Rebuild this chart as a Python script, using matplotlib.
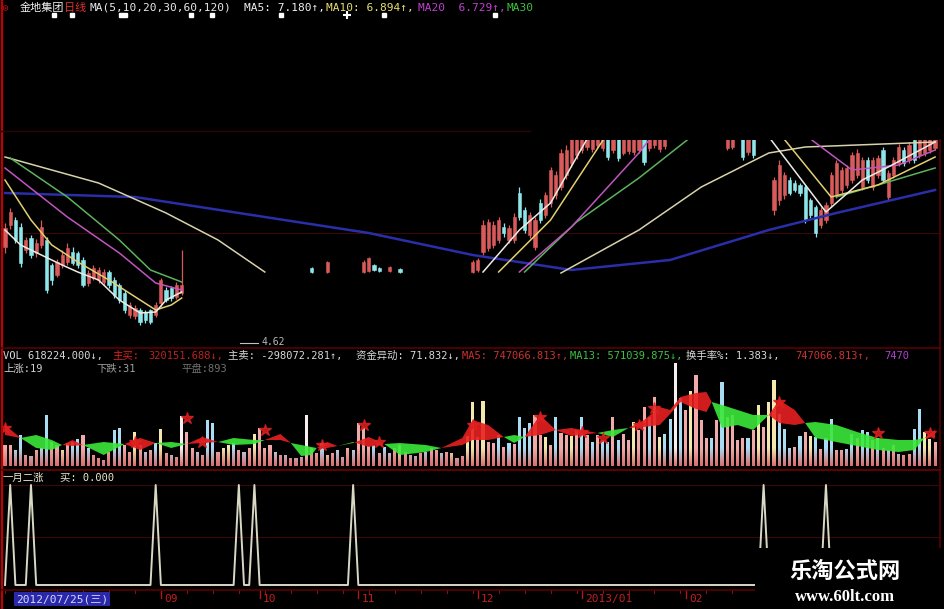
import numpy as np
import matplotlib
matplotlib.use("Agg")
from matplotlib import pyplot as plt
from matplotlib.lines import Line2D
from matplotlib.patches import Rectangle
from matplotlib.path import Path
from matplotlib.colors import LinearSegmentedColormap
from matplotlib.transforms import blended_transform_factory

plt.rcParams['font.family'] = ['DejaVu Sans Mono', 'Noto Sans CJK SC']

W, H = 945, 609
N = 180

# ---------------- candles (bar index, open, close, high, low) ----------------
cdl_idx = (list(range(0, 35)) + [59, 62, 69, 70, 71, 72, 74, 76]
           + list(range(90, 128)) + list(range(139, 145)) + list(range(148, 180)))
cdl_open = [6.18, 6.40, 6.45, 6.38, 6.15, 6.27, 6.12, 6.20, 6.25, 6.00,
            5.90, 6.00, 6.03, 6.13, 6.12, 6.05, 5.82, 5.87, 5.85, 5.83,
            5.93, 5.85, 5.80, 5.72, 5.50, 5.49, 5.55, 5.53, 5.55, 5.50,
            5.62, 5.75, 5.77, 5.68, 5.72,
            5.97, 5.93, 5.93, 5.94, 6.00, 5.97, 5.94, 5.96,
            5.93, 5.95, 6.13, 6.17, 6.20, 6.25, 6.38, 6.25, 6.25, 6.72,
            6.55, 6.30, 6.18, 6.62, 6.50, 6.62, 6.70, 6.78, 6.90, 7.02,
            7.10, 7.15, 7.18, 7.16, 7.20, 7.17, 7.30, 7.15, 7.32, 7.12,
            7.14, 7.13, 7.15, 7.30, 7.17, 7.20, 7.16, 7.19,
            7.17, 7.18, 7.40, 7.30, 7.13, 7.30,
            6.55, 6.65, 6.70, 6.85, 6.82, 6.80, 6.78, 6.65, 6.58, 6.40,
            6.45, 6.62, 6.70, 6.75, 6.80, 6.85, 6.90, 6.78, 7.05, 6.78,
            6.90, 7.15, 6.68, 6.90, 7.02, 7.15, 7.05, 7.25, 7.10, 7.12,
            7.15, 7.17]
cdl_close = [6.37, 6.53, 6.25, 6.02, 6.25, 6.10, 6.22, 6.38, 5.75, 5.85,
             6.03, 6.10, 6.17, 6.02, 6.00, 5.80, 5.92, 5.97, 5.95, 5.93,
             5.80, 5.70, 5.65, 5.55, 5.60, 5.57, 5.43, 5.45, 5.43, 5.60,
             5.85, 5.65, 5.67, 5.80, 5.80,
             5.93, 6.03, 6.03, 6.07, 5.95, 5.94, 5.98, 5.93,
             6.03, 6.05, 6.40, 6.43, 6.40, 6.45, 6.32, 6.37, 6.48, 6.48,
             6.35, 6.50, 6.45, 6.45, 6.70, 6.95, 6.90, 7.12, 7.15, 7.28,
             7.30, 7.35, 7.38, 7.40, 7.38, 7.36, 7.08, 7.35, 7.07, 7.35,
             7.37, 7.34, 7.36, 7.03, 7.35, 7.38, 7.34, 7.36,
             7.35, 7.35, 7.52, 7.08, 7.30, 7.10,
             6.85, 7.00, 6.90, 6.72, 6.75, 6.72, 6.45, 6.50, 6.32, 6.55,
             6.60, 6.90, 7.02, 6.95, 6.97, 7.10, 7.12, 7.05, 6.85, 7.05,
             7.07, 6.85, 6.92, 7.05, 7.18, 7.02, 7.20, 7.05, 7.28, 7.26,
             7.30, 7.35]
cdl_high = [6.42, 6.57, 6.48, 6.42, 6.28, 6.30, 6.26, 6.45, 6.28, 6.02,
            6.06, 6.15, 6.22, 6.18, 6.14, 6.08, 5.95, 6.00, 5.98, 5.96,
            5.95, 5.88, 5.82, 5.75, 5.63, 5.60, 5.57, 5.55, 5.56, 5.63,
            5.87, 5.78, 5.79, 5.83, 6.15,
            5.98, 6.04, 6.05, 6.08, 6.01, 5.98, 5.99, 5.97,
            6.05, 6.07, 6.45, 6.46, 6.44, 6.48, 6.42, 6.40, 6.52, 6.78,
            6.58, 6.53, 6.48, 6.66, 6.73, 6.98, 6.94, 7.16, 7.20, 7.32,
            7.35, 7.40, 7.42, 7.45, 7.42, 7.40, 7.33, 7.38, 7.35, 7.38,
            7.40, 7.38, 7.40, 7.33, 7.38, 7.42, 7.37, 7.40,
            7.38, 7.38, 7.55, 7.33, 7.34, 7.33,
            6.88, 7.05, 6.93, 6.88, 6.85, 6.82, 6.80, 6.67, 6.60, 6.58,
            6.63, 6.93, 7.05, 6.98, 7.00, 7.13, 7.16, 7.08, 7.08, 7.08,
            7.10, 7.18, 6.95, 7.08, 7.21, 7.18, 7.23, 7.28, 7.31, 7.30,
            7.33, 7.38]
cdl_low = [6.12, 6.36, 6.22, 5.98, 6.12, 6.07, 6.08, 6.17, 5.72, 5.80,
           5.88, 5.97, 6.00, 6.00, 5.97, 5.78, 5.79, 5.85, 5.82, 5.80,
           5.77, 5.67, 5.62, 5.52, 5.47, 5.46, 5.40, 5.42, 5.41, 5.48,
           5.58, 5.63, 5.64, 5.66, 5.70,
           5.92, 5.92, 5.92, 5.93, 5.94, 5.93, 5.93, 5.92,
           5.92, 5.93, 6.10, 6.14, 6.17, 6.22, 6.28, 6.22, 6.22, 6.45,
           6.32, 6.27, 6.15, 6.42, 6.47, 6.58, 6.66, 6.75, 6.86, 6.98,
           7.06, 7.12, 7.15, 7.13, 7.17, 7.14, 7.05, 7.12, 7.04, 7.10,
           7.11, 7.10, 7.12, 7.00, 7.14, 7.17, 7.13, 7.16,
           7.15, 7.16, 7.36, 7.05, 7.10, 7.07,
           6.50, 6.60, 6.66, 6.70, 6.73, 6.69, 6.42, 6.47, 6.28, 6.37,
           6.42, 6.58, 6.67, 6.72, 6.77, 6.82, 6.87, 6.75, 6.82, 6.75,
           6.87, 6.82, 6.65, 6.87, 6.99, 6.99, 7.02, 7.02, 7.07, 7.09,
           7.12, 7.15]

# ---------------- moving averages (nan = gap in the screenshot) ----------------
nan = np.nan
ma5_idx = [0, 3, 7, 11, 14, 18, 22, 26, 29, 31, 34, nan, 92, 99, 105, 113, nan, 146, 158, 165, 170, 179]
ma5_val = [6.35, 6.20, 6.10, 6.00, 5.93, 5.85, 5.65, 5.52, 5.53, 5.65, 5.73, nan,
           5.93, 6.35, 6.62, 7.35, nan, 7.35, 6.53, 6.85, 6.98, 7.23]
ma10_idx = [0, 5, 9, 14, 20, 26, 29, 32, 34, nan, 95, 105, 116, nan, 149, 159, 168, 179]
ma10_val = [6.85, 6.45, 6.20, 6.03, 5.85, 5.65, 5.55, 5.60, 5.67, nan,
            5.93, 6.45, 7.32, nan, 7.32, 6.68, 6.80, 7.08]
ma20_idx = [0, 12, 22, 29, 34, nan, 99, 109, 122, 125, nan, 154, 163, 172, 179]
ma20_val = [6.97, 6.48, 6.12, 5.82, 5.75, nan, 5.93, 6.38, 7.12, 7.32, nan, 7.30, 6.95, 7.00, 7.15]
ma30_idx = [1, 12, 22, 28, 34, nan, 100, 110, 122, 133, nan, 160, 168, 179]
ma30_val = [7.07, 6.68, 6.25, 5.95, 5.83, nan, 5.93, 6.43, 6.87, 7.32, nan, 6.68, 6.80, 6.97]
ma60_idx = [0, 18, 31, 41, 50, nan, 107, 122, 134, 147, 154, 179]
ma60_val = [7.08, 6.82, 6.52, 6.25, 5.93, nan, 5.92, 6.35, 6.78, 7.12, 7.18, 7.23]
ma120_idx = [0, 25, 50, 70, 90, 109, 128, 147, 160, 179]
ma120_val = [6.72, 6.68, 6.48, 6.32, 6.10, 5.95, 6.05, 6.35, 6.52, 6.75]

# info-mine markers above the price panel
info_idx = [9.4, 12.9, 22.3, 23.0, 35.8, 39.8, 53.1, 72.9, 94.3]
info_plus = [65.8]

# ---------------- volume (万手) ----------------
volume = [42, 42, 32, 62, 22, 20, 32, 36, 102, 48,
          42, 32, 46, 48, 54, 62, 36, 22, 16, 12,
          28, 72, 76, 42, 28, 68, 42, 28, 32, 46,
          74, 26, 22, 18, 100, 68, 36, 28, 22, 92,
          86, 28, 36, 42, 46, 32, 28, 36, 64, 76,
          36, 42, 28, 22, 22, 16, 16, 18, 102, 36,
          26, 46, 22, 26, 32, 18, 36, 32, 86, 76,
          40, 42, 26, 38, 26, 36, 42, 28, 22, 20,
          26, 28, 36, 32, 26, 28, 26, 16, 20, 60,
          128, 58, 130, 48, 46, 62, 38, 46, 45, 98,
          76, 86, 102, 62, 58, 42, 98, 66, 62, 60,
          72, 98, 62, 48, 62, 52, 48, 98, 52, 65,
          52, 88, 72, 118, 98, 138, 58, 65, 94, 206,
          136, 112, 150, 182, 92, 56, 57, 92, 168, 98,
          102, 53, 57, 57, 72, 122, 79, 128, 172, 105,
          75, 37, 39, 60, 69, 60, 59, 35, 57, 95,
          33, 33, 35, 65, 57, 73, 69, 52, 57, 37,
          32, 42, 25, 22, 25, 75, 115, 69, 55, 48]
vol_kind = ("ppbbpbpbbp" "pypbbpbppb" "pbbppypbpb" "ypbpwppbpb" "bpyybpbpyp"
            "ppbpbpbbwp" "pbypbbpbpp" "pbpbbpypbb" "pbppbpybpy"
            "ypyppbpbpb" "bbppypbppy" "pbpbpbbpbp" "pyppbpybbw" "bpypppbpbp"
            "pppbpypyyb" "bbpbpybpbb" "ppbbpbbpbp" "bpbppbbyyp")

# money-flow ribbon (red where buy > sell, green otherwise)
mf_idx = [0, 3, 6, 9, 11, 13, 15, 19, 23, 26, 29, 32, 35, 38, 41, 44, 48, 50, 53, 55,
          57, 59, 60, 62, 64, 67, 70, 73, 76, 81, 84, 88, 90, 93, 96, 98, 100, 103, 106, 109,
          114, 117, 120, 123, 126, 128, 130, 133, 135, 136, 138, 141, 144, 147, 149, 152, 154, 156, 160, 164,
          168, 172, 175, 177, 179]
mf_buy = [82, 56, 36, 32, 42, 52, 42, 22, 44, 56, 46, 36, 44, 58, 48, 42, 44, 52, 64, 46,
          20, 22, 36, 48, 40, 46, 58, 44, 22, 28, 36, 56, 92, 82, 58, 46, 58, 102, 72, 76,
          66, 58, 76, 92, 118, 112, 138, 146, 148, 128, 76, 82, 72, 102, 132, 112, 86, 56, 48, 40,
          32, 28, 32, 56, 72]
mf_sell = [62, 56, 62, 52, 42, 40, 42, 48, 44, 32, 46, 48, 44, 46, 48, 56, 52, 52, 52, 46,
           42, 38, 36, 36, 40, 48, 38, 44, 46, 42, 36, 42, 52, 52, 58, 62, 58, 62, 72, 60,
           66, 72, 76, 78, 82, 104, 128, 114, 108, 128, 122, 112, 102, 102, 86, 82, 86, 88, 82, 68,
           56, 52, 52, 56, 58]
star_idx = [0, 25, 35, 38, 50, 61, 69, 72, 90, 103, 111, 115, 122, 125, 149, 168, 178]
star_val = [76, 48, 96, 48, 72, 42, 82, 48, 82, 98, 68, 56, 82, 116, 128, 66, 66]

# 一月二涨 signal bars
spike_idx = [1, 5, 29, 45, 48, 67, 146, 158]

# date axis
month_idx = [30, 49, 68, 91, 111, 131]
month_lbl = ['09', '10', '11', '12', '2013/01', '02']
first_date = '2012/07/25(三)'

# ---------------- figure ----------------
UP, DOWN = '#d85a5a', '#8ee6ea'
DARK_RED = '#5a0000'
XLIM = (-0.58, 179.95)

fig = plt.figure(figsize=(W / 100, H / 100), dpi=100, facecolor='black')


def px_axes(y0, y1):
    ax = fig.add_axes([2 / W, 1 - y1 / H, 938 / W, (y1 - y0) / H])
    ax.set_facecolor('black')
    ax.set_xlim(*XLIM)
    ax.set_xticks([])
    ax.set_yticks([])
    for s in ax.spines.values():
        s.set_visible(False)
    return ax


def ftext(x, y, s, color, size=7.5, **kw):
    fig.text(x / W, 1 - y / H, s, color=color, fontsize=size, va='center', ha='left', **kw)


def fline(x0, y0, x1, y1, color, lw=1.0):
    fig.add_artist(Line2D([x0 / W, x1 / W], [1 - y0 / H, 1 - y1 / H],
                          transform=fig.transFigure, color=color, lw=lw))


# ---- price panel ----
ax_p = px_axes(140, 345)
ax_p.set_ylim(5.20, 7.25)
ax_p.axhline(6.32, color='#3a0808', lw=0.8)

xi = np.array(cdl_idx)
o, c = np.array(cdl_open), np.array(cdl_close)
hi, lo = np.array(cdl_high), np.array(cdl_low)
up = c >= o
for mask, col in ((up, UP), (~up, DOWN)):
    ax_p.vlines(xi[mask], lo[mask], hi[mask], color=col, lw=0.9, zorder=2)
    ax_p.bar(xi[mask], (c - o)[mask], bottom=o[mask], width=0.62,
             color=col, edgecolor=col, lw=0.4, zorder=2)

for idx, val, col, lw in ((ma120_idx, ma120_val, '#2a2ea8', 1.8),
                          (ma60_idx, ma60_val, '#d8d2aa', 1.1),
                          (ma30_idx, ma30_val, '#5cb35c', 1.1),
                          (ma20_idx, ma20_val, '#c055c0', 1.1),
                          (ma10_idx, ma10_val, '#e2d070', 1.1),
                          (ma5_idx, ma5_val, '#ecece4', 1.1)):
    ax_p.plot(idx, val, color=col, lw=lw, zorder=3)

top_tr = blended_transform_factory(ax_p.transData, fig.transFigure)
ax_p.plot(info_idx, [1 - 15 / H] * len(info_idx), 's', ms=3.5, color='white',
          transform=top_tr, clip_on=False)
ax_p.plot(info_plus, [1 - 15 / H], '+', ms=6, mew=1.5, color='white',
          transform=top_tr, clip_on=False)

# ---- volume panel ----
ax_v = px_axes(350, 466)
ymax = 232
top_cols = {'p': '#f0aaaa', 'b': '#aadcf4', 'y': '#f4e8ae', 'w': '#f8f0f0'}
bw = 0.6
ramp = np.clip(np.arange(ymax) / 36.0, 0, 1).reshape(-1, 1)
for key, col in top_cols.items():
    sel = [i for i, k in enumerate(vol_kind) if k == key]
    polys = np.array([[(i - bw / 2, 0), (i + bw / 2, 0), (i + bw / 2, volume[i]),
                       (i - bw / 2, volume[i]), (i - bw / 2, 0)] for i in sel])
    path = Path.make_compound_path_from_polys(polys)
    cmap = LinearSegmentedColormap.from_list('v' + key, ['#d86e6e', col])
    im = ax_v.imshow(ramp, cmap=cmap, origin='lower', aspect='auto',
                     extent=(XLIM[0], XLIM[1], 0, ymax), vmin=0, vmax=1, zorder=1)
    im.set_clip_path(path, transform=ax_v.transData)

mx = np.array(mf_idx)
mb, ms = np.array(mf_buy), np.array(mf_sell)
ax_v.fill_between(mx, mb, ms, where=mb >= ms, interpolate=True,
                  color='#e82020', alpha=0.9, lw=0, zorder=3)
ax_v.fill_between(mx, mb, ms, where=mb < ms, interpolate=True,
                  color='#3ae83a', alpha=0.9, lw=0, zorder=3)
ax_v.plot(star_idx, star_val, '*', ms=9, color='#e02020', alpha=0.85, zorder=4)
ax_v.set_xlim(*XLIM)
ax_v.set_ylim(0, ymax)

# ---- indicator panel ----
ax_i = px_axes(470, 590)
ax_i.set_ylim(-0.05, 1.15)
ax_i.axhline(1.0, color='#3a0808', lw=0.8)
ax_i.axhline(0.48, color='#3a0808', lw=0.8)
signal = np.zeros(N)
signal[spike_idx] = 1.0
ax_i.plot(np.arange(N), signal, color='#d8d8c4', lw=1.4)

# ---- frame lines ----
fline(2, 0, 2, 609, '#c00000', 1.6)
fline(940, 140, 940, 590, DARK_RED, 1.2)
fline(0, 131, 530, 131, '#2c0606', 1.0)
fline(2, 348, 940, 348, DARK_RED, 1.2)
fline(2, 470, 940, 470, '#700000', 1.2)
fline(2, 590, 940, 590, DARK_RED, 1.2)

# ---- title line ----
fig.text(6 / W, 1 - 8 / H, '◎', color='#e02020', fontsize=6, va='center', ha='center')
ftext(20, 8, '金地集团', '#f0f0f0', 8)
ftext(64, 8, '日线', '#e03030', 8)
ftext(90, 8, 'MA(5,10,20,30,60,120)', '#e8e8e8', 8)
ftext(244, 8, 'MA5: 7.180↑,', '#f0f0f0', 8)
ftext(326, 8, 'MA10: 6.894↑,', '#e8e070', 8)
ftext(418, 8, 'MA20  6.729↑,', '#c040d0', 8)
ftext(507, 8, 'MA30', '#40c040', 8)

# low price mark
fline(240, 343, 258, 343, '#c0c0c0', 0.8)
ftext(262, 342, '4.62', '#b8b8b8', 7)

# ---- volume header ----
ftext(3, 356, 'VOL 618224.000↓,', '#d8d8d8')
ftext(112, 356, '主买:', '#e02020')
ftext(148, 356, '320151.688↓,', '#c02020')
ftext(228, 356, '主卖: -298072.281↑,', '#d8d8d8')
ftext(356, 356, '资金异动: 71.832↓,', '#d8d8d8')
ftext(462, 356, 'MA5: 747066.813↑,', '#d03030')
ftext(570, 356, 'MA13: 571039.875↓,', '#40c040')
ftext(686, 356, '换手率%: 1.383↓,', '#d8d8d8')
ftext(795, 356, '747066.813↑,', '#d03030')
ftext(884, 356, '7470', '#b040d0')
ftext(3, 369, '上涨:19', '#d0d0d0')
ftext(96, 369, '下跌:31', '#a0a0a0')
ftext(181, 369, '平盘:893', '#707070')

ftext(3, 478, '一月二涨', '#e8e8d0')
ftext(60, 478, '买: 0.000', '#e8e8d0')

# ---- date axis ----
date_tr = blended_transform_factory(ax_i.transData, fig.transFigure)
for m in range(0, N, 5):
    ax_i.plot([m, m], [1 - 590 / H, 1 - 593 / H], color='#901010', lw=0.8,
              transform=date_tr, clip_on=False)
for m, lbl in zip(month_idx, month_lbl):
    ax_i.plot([m, m], [1 - 590 / H, 1 - 598 / H], color='#b01818', lw=1.0,
              transform=date_tr, clip_on=False)
    ax_i.text(m + 0.6, 1 - 599 / H, lbl, color='#c02020', fontsize=8,
              va='center', ha='left', transform=date_tr, clip_on=False)
fig.text(16 / W, 1 - 599 / H, first_date, color='#d8d8ff', fontsize=8, va='center', ha='left',
         bbox=dict(boxstyle='square,pad=0.15', facecolor='#2828a8', edgecolor='none'))

# ---- watermark ----
fig.add_artist(Rectangle((755 / W, 0), 190 / W, 61 / H, transform=fig.transFigure,
                         facecolor='black', edgecolor='none', zorder=10))
fig.text(845 / W, 1 - 571 / H, '乐淘公式网', color='white', fontsize=16, fontweight='bold',
         family='Noto Sans CJK SC', ha='center', va='center', zorder=11)
fig.text(845 / W, 1 - 597 / H, 'www.60lt.com', color='white', fontsize=12, fontweight='bold',
         family='Liberation Serif', ha='center', va='center', zorder=11)

fig.savefig('out.png', dpi=100, facecolor='black')
